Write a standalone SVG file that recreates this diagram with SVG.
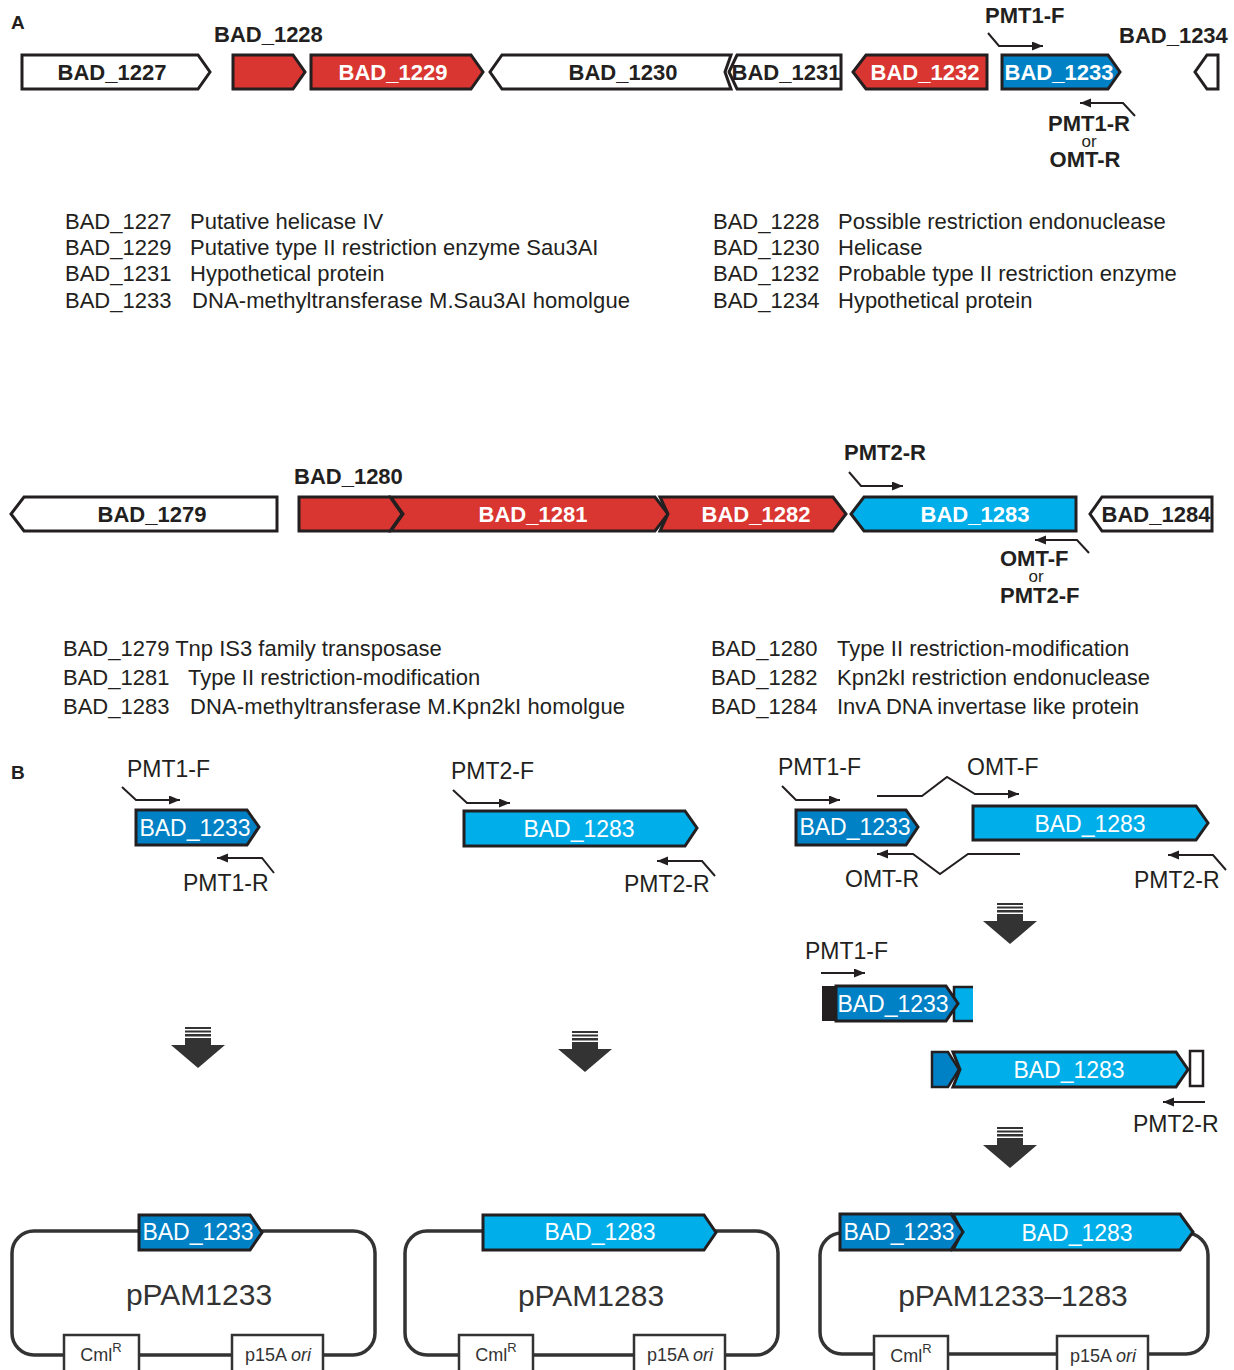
<svg xmlns="http://www.w3.org/2000/svg" width="1234" height="1370" viewBox="0 0 1234 1370">
<defs>
<style>
text{font-family:"Liberation Sans",Arial,sans-serif;fill:#231f20}
.b{font-weight:bold}
.lab{font-size:22px;font-weight:bold}
.gl{font-size:22px;font-weight:bold;text-anchor:middle}
.gw{fill:#fff}
.d{font-size:22px}
.p{font-size:23px}
.or{font-size:17px;text-anchor:middle}
.g{stroke:#231f20;stroke-width:3;stroke-linejoin:miter}
.red{fill:#d93531}
.blu{fill:#0081c6}
.lb{fill:#00aeea}
.wh{fill:#fff}
.pr{fill:none;stroke:#231f20;stroke-width:2}
.pl{fill:none;stroke:#333;stroke-width:3.5}
.box{fill:#fff;stroke:#333;stroke-width:2.5}
.bt{font-size:23px;fill:#fff;text-anchor:middle}
.pn{font-size:30px;text-anchor:middle;fill:#333}
.sm{font-size:18px;text-anchor:middle;fill:#333}
</style>
<marker id="ah" markerUnits="userSpaceOnUse" markerWidth="12" markerHeight="10" refX="11" refY="4.5" orient="auto">
<path d="M0,0 L11,4.5 L0,9 z" fill="#231f20"/>
</marker>
<g id="dn" fill="#333">
<rect x="-13" y="0" width="26" height="2"/>
<rect x="-13" y="3.5" width="26" height="2"/>
<rect x="-13" y="7" width="26" height="2.5"/>
<rect x="-13" y="11" width="26" height="7"/>
<polygon points="-27,18 27,18 0,41"/>
</g>
</defs>
<rect width="1234" height="1370" fill="#fff"/>

<!-- Panel A labels -->
<text x="11" y="29" class="b" style="font-size:19px">A</text>
<text x="214" y="42" class="lab">BAD_1228</text>
<text x="985" y="23" class="lab">PMT1-F</text>
<text x="1119" y="43" class="lab">BAD_1234</text>

<g id="bad1227"><polygon class="g wh" points="22,55 198,55 210,72 198,89 22,89"/><text x="112" y="80" class="gl">BAD_1227</text></g>
<g id="bad1228"><polygon class="g red" points="233,55 293,55 305,72 293,89 233,89"/></g>
<g id="bad1229"><polygon class="g red" points="311,55 471,55 483,72 471,89 311,89"/><text x="393" y="80" class="gl gw">BAD_1229</text></g>
<g id="bad1230"><polygon class="g wh" points="502,55 731,55 725,72 731,89 502,89 490,72"/><text x="623" y="80" class="gl">BAD_1230</text></g>
<g id="bad1231"><polygon class="g wh" points="737,55 841,55 841,89 737,89 729,72"/><text x="786" y="80" class="gl">BAD_1231</text></g>
<g id="bad1232"><polygon class="g red" points="866,55 987,55 987,89 866,89 853,72"/><text x="925" y="80" class="gl gw">BAD_1232</text></g>
<g id="bad1233"><polygon class="g blu" points="1002,55 1108,55 1120,72 1108,89 1002,89"/><text x="1059" y="80" class="gl gw">BAD_1233</text></g>
<g id="bad1234"><polygon class="g wh" points="1207,55 1218,55 1218,89 1207,89 1195,72"/></g>

<g id="primersA1">
<polyline class="pr" points="988,33 999,46 1043,46" marker-end="url(#ah)"/>
<polyline class="pr" points="1135,116 1123,103 1080,103" marker-end="url(#ah)"/>
</g>
<text x="1089" y="131" class="lab" text-anchor="middle">PMT1-R</text>
<text x="1089" y="147" class="or">or</text>
<text x="1085" y="167" class="lab" text-anchor="middle">OMT-R</text>

<g id="descA1">
<text x="65" y="229" class="d">BAD_1227</text><text x="190" y="229" class="d">Putative helicase IV</text>
<text x="65" y="255" class="d">BAD_1229</text><text x="190" y="255" class="d">Putative type II restriction enzyme Sau3AI</text>
<text x="65" y="281" class="d">BAD_1231</text><text x="190" y="281" class="d">Hypothetical protein</text>
<text x="65" y="308" class="d">BAD_1233</text><text x="192" y="308" class="d" textLength="438">DNA-methyltransferase M.Sau3AI homolgue</text>
<text x="713" y="229" class="d">BAD_1228</text><text x="838" y="229" class="d">Possible restriction endonuclease</text>
<text x="713" y="255" class="d">BAD_1230</text><text x="838" y="255" class="d">Helicase</text>
<text x="713" y="281" class="d">BAD_1232</text><text x="838" y="281" class="d">Probable type II restriction enzyme</text>
<text x="713" y="308" class="d">BAD_1234</text><text x="838" y="308" class="d">Hypothetical protein</text>
</g>

<!-- Second cluster -->
<text x="294" y="484" class="lab">BAD_1280</text>
<text x="844" y="460" class="lab">PMT2-R</text>

<g id="bad1279"><polygon class="g wh" points="24,497 277,497 277,531 24,531 11,514"/><text x="152" y="522" class="gl">BAD_1279</text></g>
<g id="bad1281"><polygon class="g red" points="391,497 655,497 668,514 655,531 391,531 403,514"/><text x="533" y="522" class="gl gw">BAD_1281</text></g>
<g id="bad1280"><polygon class="g red" points="299,497 390,497 402,514 390,531 299,531"/></g>
<g id="bad1282"><polygon class="g red" points="660,497 833,497 846,514 833,531 660,531 668,514"/><text x="756" y="522" class="gl gw">BAD_1282</text></g>
<g id="bad1283"><polygon class="g lb" points="864,497 1076,497 1076,531 864,531 851,514"/><text x="975" y="522" class="gl gw">BAD_1283</text></g>
<g id="bad1284"><polygon class="g wh" points="1102,497 1212,497 1212,531 1102,531 1090,514"/><text x="1156" y="522" class="gl">BAD_1284</text></g>

<g id="primersA2">
<polyline class="pr" points="849,472 861,486 903,486" marker-end="url(#ah)"/>
<polyline class="pr" points="1089,553 1077,540 1035,540" marker-end="url(#ah)"/>
</g>
<text x="1000" y="566" class="lab">OMT-F</text>
<text x="1036" y="582" class="or">or</text>
<text x="1000" y="603" class="lab">PMT2-F</text>

<g id="descA2">
<text x="63" y="656" class="d">BAD_1279 Tnp IS3 family transposase</text>
<text x="63" y="685" class="d">BAD_1281</text><text x="188" y="685" class="d">Type II restriction-modification</text>
<text x="63" y="714" class="d">BAD_1283</text><text x="190" y="714" class="d" textLength="435">DNA-methyltransferase M.Kpn2kI homolgue</text>
<text x="711" y="656" class="d">BAD_1280</text><text x="837" y="656" class="d">Type II restriction-modification</text>
<text x="711" y="685" class="d">BAD_1282</text><text x="837" y="685" class="d">Kpn2kI restriction endonuclease</text>
<text x="711" y="714" class="d">BAD_1284</text><text x="837" y="714" class="d">InvA DNA invertase like protein</text>
</g>

<!-- Panel B -->
<text x="11" y="779" class="b" style="font-size:19px">B</text>

<!-- column 1 -->
<text x="127" y="777" class="p">PMT1-F</text>
<g id="b1_1233"><polygon class="g blu" points="136,810 247,810 259,827 247,845 136,845"/><text x="195" y="836" class="bt">BAD_1233</text></g>
<text x="183" y="891" class="p">PMT1-R</text>

<!-- column 2 -->
<text x="451" y="779" class="p">PMT2-F</text>
<g id="b2_1283"><polygon class="g lb" points="464,811 685,811 697,828 685,846 464,846"/><text x="579" y="837" class="bt">BAD_1283</text></g>
<text x="624" y="892" class="p">PMT2-R</text>

<!-- column 3 -->
<text x="778" y="775" class="p">PMT1-F</text>
<text x="967" y="775" class="p">OMT-F</text>
<g id="b3_1233"><polygon class="g blu" points="796,810 906,810 918,827 906,845 796,845"/><text x="855" y="835" class="bt">BAD_1233</text></g>
<g id="b3_1283"><polygon class="g lb" points="973,806 1196,806 1208,823 1196,840 973,840"/><text x="1090" y="832" class="bt">BAD_1283</text></g>
<text x="845" y="887" class="p">OMT-R</text>
<text x="1134" y="888" class="p">PMT2-R</text>

<text x="805" y="959" class="p">PMT1-F</text>
<g id="fus1">
<rect x="822" y="986" width="16" height="35" fill="#231f20"/>
<rect x="955" y="987" width="18" height="34" class="lb"/>
<polyline points="973,987 954,987 954,1021 973,1021" fill="none" stroke="#231f20" stroke-width="2.5"/>
<polygon class="g blu" points="836,986 946,986 958,1003.5 946,1021 836,1021"/>
<text x="893" y="1012" class="bt">BAD_1233</text>
</g>
<g id="fus2">
<polygon class="g blu" points="932,1052 948,1052 959,1069.5 948,1087 932,1087" style="stroke-width:2.5"/>
<polygon class="g lb" points="953,1052 1176,1052 1188,1069.5 1176,1087 953,1087 960,1069.5"/>
<rect x="1190" y="1051" width="13" height="35" fill="#fff" stroke="#231f20" stroke-width="2.5"/>
<text x="1069" y="1078" class="bt">BAD_1283</text>
</g>
<text x="1133" y="1132" class="p">PMT2-R</text>

<g id="connectors">
<polyline class="pr" points="122,787 136,800 180,800" marker-end="url(#ah)"/>
<polyline class="pr" points="274,873 262,858 217,858" marker-end="url(#ah)"/>
<polyline class="pr" points="453,790 467,803 510,803" marker-end="url(#ah)"/>
<polyline class="pr" points="715,876 702,861 657,861" marker-end="url(#ah)"/>
<polyline class="pr" points="782,786 796,800 840,800" marker-end="url(#ah)"/>
<polyline class="pr" points="877,796 922,796 947,777 975,794 1019,794" marker-end="url(#ah)"/>
<polyline class="pr" points="1020,854 968,854 940,874 913,854 877,854" marker-end="url(#ah)"/>
<polyline class="pr" points="1226,870 1213,855 1168,855" marker-end="url(#ah)"/>
<line class="pr" x1="821" y1="973" x2="865" y2="973" marker-end="url(#ah)"/>
<line class="pr" x1="1205" y1="1102" x2="1163" y2="1102" marker-end="url(#ah)"/>
<use href="#dn" x="198" y="1027"/>
<use href="#dn" x="585" y="1031"/>
<use href="#dn" x="1010" y="903"/>
<use href="#dn" x="1010" y="1127"/>
</g>

<!-- plasmids -->
<g id="pPAM1233">
<rect x="12" y="1231" width="363" height="124" rx="22" class="pl"/>
<polygon class="g blu" points="139,1215 250,1215 262,1232.5 250,1250 139,1250"/>
<text x="198" y="1240" class="bt">BAD_1233</text>
<text x="199" y="1305" class="pn">pPAM1233</text>
<rect x="64" y="1335" width="75" height="40" class="box"/>
<text x="101" y="1361" class="sm">Cml<tspan dy="-9" style="font-size:13px">R</tspan></text>
<rect x="232" y="1335" width="91" height="40" class="box"/>
<text x="278" y="1361" class="sm">p15A <tspan font-style="italic">ori</tspan></text>
</g>
<g id="pPAM1283">
<rect x="405" y="1231" width="373" height="124" rx="22" class="pl"/>
<polygon class="g lb" points="483,1215 704,1215 716,1232.5 704,1250 483,1250"/>
<text x="600" y="1240" class="bt">BAD_1283</text>
<text x="591" y="1306" class="pn">pPAM1283</text>
<rect x="459" y="1335" width="74" height="40" class="box"/>
<text x="496" y="1361" class="sm">Cml<tspan dy="-9" style="font-size:13px">R</tspan></text>
<rect x="634" y="1335" width="91" height="40" class="box"/>
<text x="680" y="1361" class="sm">p15A <tspan font-style="italic">ori</tspan></text>
</g>
<g id="pPAM1233-1283">
<rect x="820" y="1233" width="388" height="121" rx="22" class="pl"/>
<polygon class="g lb" points="953,1214 1180,1214 1193,1232 1180,1250 953,1250 962,1232"/>
<polygon class="g blu" points="840,1214 951,1214 963,1232 951,1250 840,1250"/>
<text x="899" y="1240" class="bt">BAD_1233</text>
<text x="1077" y="1241" class="bt">BAD_1283</text>
<text x="1013" y="1306" class="pn">pPAM1233–1283</text>
<rect x="874" y="1336" width="74" height="40" class="box"/>
<text x="911" y="1362" class="sm">Cml<tspan dy="-9" style="font-size:13px">R</tspan></text>
<rect x="1057" y="1336" width="91" height="40" class="box"/>
<text x="1103" y="1362" class="sm">p15A <tspan font-style="italic">ori</tspan></text>
</g>
</svg>
